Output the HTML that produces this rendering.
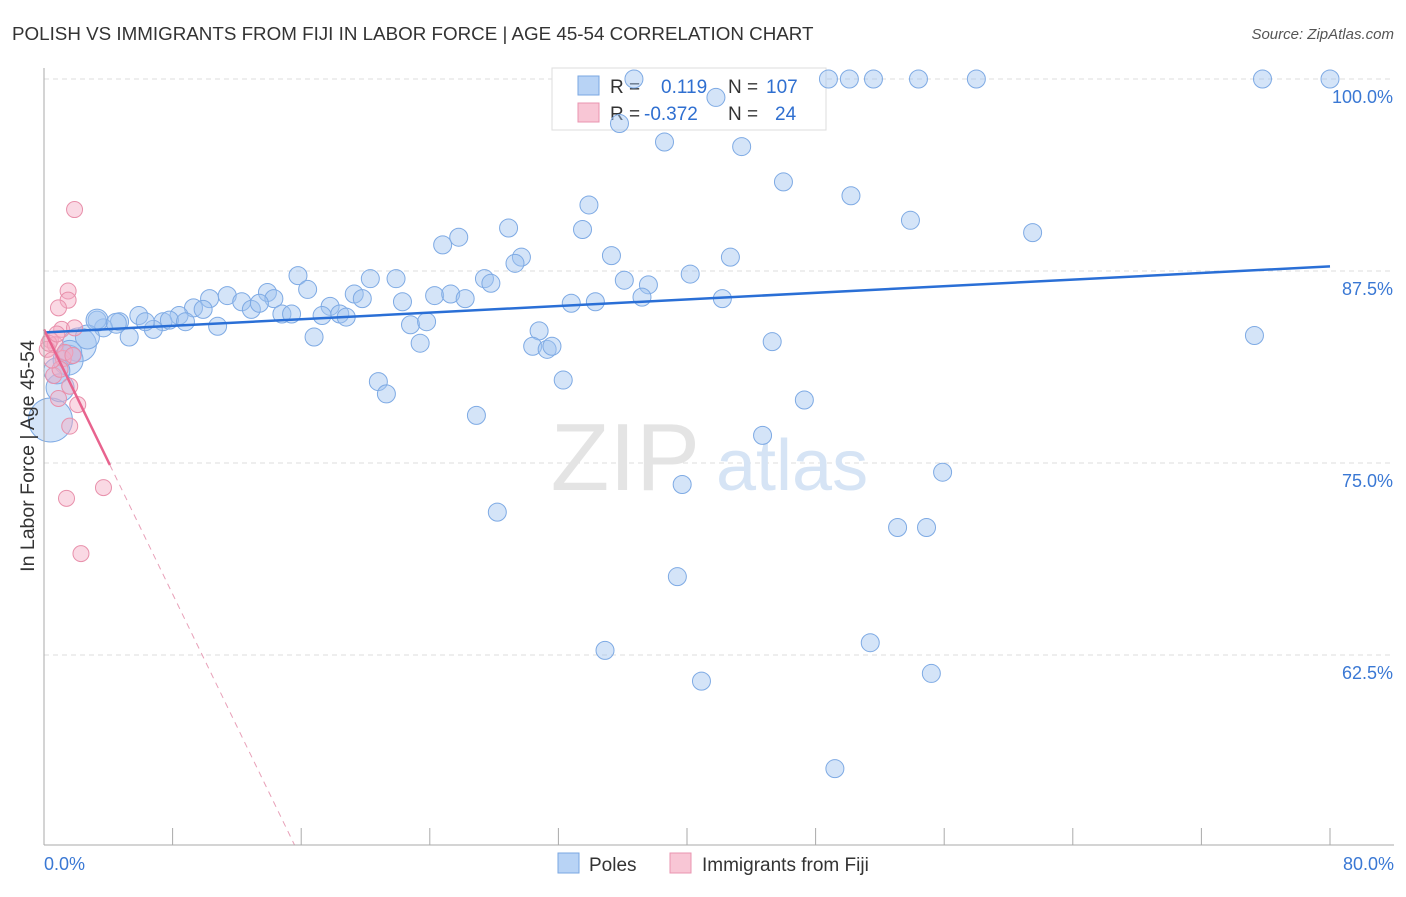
<!DOCTYPE html>
<html><head><meta charset="utf-8"><style>
body{margin:0;background:#fff;font-family:"Liberation Sans",sans-serif}
svg text{font-family:"Liberation Sans",sans-serif}
</style></head><body>
<svg id="c" width="1406" height="892">
<text x="12" y="40" font-size="18.8" fill="#333">POLISH VS IMMIGRANTS FROM FIJI IN LABOR FORCE | AGE 45-54 CORRELATION CHART</text>
<text x="1394" y="39" font-size="15" fill="#555" text-anchor="end" font-style="italic">Source: ZipAtlas.com</text>
<g id="grid"></g>
<text x="700" y="490" font-size="96" fill="#e4e4e4" text-anchor="end" font-family="Liberation Serif">ZIP</text>
<text x="716" y="490" font-size="72" fill="#d6e4f5">atlas</text>
<g>
<rect x="552" y="68" width="274" height="62" fill="#fff" stroke="#ddd"/>
<rect x="578" y="76" width="21" height="19" fill="#b8d3f5" stroke="#7aa7e2"/>
<rect x="578" y="103" width="21" height="19" fill="#f8c6d5" stroke="#ea94b0"/>
<text x="610" y="93" font-size="19" fill="#333">R = <tspan x="661" fill="#2f6fd0">0.119</tspan><tspan x="728" fill="#333">N = </tspan><tspan x="766" fill="#2f6fd0">107</tspan></text>
<text x="610" y="120" font-size="19" fill="#333">R = <tspan x="644" fill="#2f6fd0">-0.372</tspan><tspan x="728" fill="#333">N = </tspan><tspan x="775" fill="#2f6fd0">24</tspan></text>
</g>
<g id="pts"></g>
<g id="axes"></g>
<text x="34" y="456" font-size="19.5" fill="#333" text-anchor="middle" transform="rotate(-90 34 456)">In Labor Force | Age 45-54</text>
<g>
<rect x="558" y="853" width="21" height="20" fill="#b8d3f5" stroke="#7aa7e2"/>
<text x="589" y="871" font-size="19" fill="#333">Poles</text>
<rect x="670" y="853" width="21" height="20" fill="#f8c6d5" stroke="#ea94b0"/>
<text x="702" y="871" font-size="19" fill="#333">Immigrants from Fiji</text>
</g>
</svg>
<script>
const yTicks=[100,87.5,75,62.5];
const yTickLabels=["100.0%","87.5%","75.0%","62.5%"];
const xTicks=[0,8,16,24,32,40,48,56,64,72,80];
const polesX=[36.7,48.8,50.1,51.6,54.4,58.0,75.8,80.0,35.8,41.8,38.6,43.4,46.0,50.2,53.9,61.5,33.9,33.5,28.9,25.8,24.8,29.7,29.3,35.3,42.7,40.2,36.1,37.6,27.4,27.8,21.9,20.3,15.8,16.4,13.9,14.3,10.3,11.4,12.3,12.9,13.4,9.3,9.9,8.4,7.4,7.8,8.8,6.8,5.9,6.3,4.7,3.7,3.3,5.3,10.8,14.8,15.4,17.8,18.4,18.8,17.3,19.3,19.8,22.3,24.3,25.3,26.2,22.8,23.8,23.4,16.8,32.8,34.3,37.2,42.2,30.8,30.4,31.3,31.6,45.3,75.3,20.8,21.3,32.3,47.3,26.9,44.7,55.9,39.7,28.2,53.1,54.9,39.4,51.4,34.9,55.2,40.9,49.2,2.2,1.5,0.4,1.0,2.7,1.6,3.3,4.5,0.8];
const polesY=[100,100,100,100,100,100,100,100,97.1,98.8,95.9,95.6,93.3,92.4,90.8,90.0,91.8,90.2,90.3,89.7,89.2,88.4,88.0,88.5,88.4,87.3,86.9,86.6,87.0,86.7,87.0,87.0,87.2,86.3,86.1,85.7,85.7,85.9,85.5,85.0,85.4,85.1,85.0,84.6,84.2,84.3,84.2,83.7,84.6,84.2,84.2,83.8,84.3,83.2,83.9,84.7,84.7,85.2,84.7,84.5,84.6,86.0,85.7,85.5,85.9,86.0,85.7,84.0,84.2,82.8,83.2,85.4,85.5,85.8,85.7,83.6,82.6,82.4,82.6,82.9,83.3,80.3,79.5,80.4,79.1,78.1,76.8,74.4,73.6,71.8,70.8,70.8,67.6,63.3,62.8,61.3,60.8,55.1,82.7,81.7,77.8,79.9,83.2,82.2,84.3,84.1,81.0];
const polesR=[9,9,9,9,9,9,9,9,9,9,9,9,9,9,9,9,9,9,9,9,9,9,9,9,9,9,9,9,9,9,9,9,9,9,9,9,9,9,9,9,9,9,9,9,9,9,9,9,9,9,9,9,9,9,9,9,9,9,9,9,9,9,9,9,9,9,9,9,9,9,9,9,9,9,9,9,9,9,9,9,9,9,9,9,9,9,9,9,9,9,9,9,9,9,9,9,9,9,17,15,22,14,12,12,11,10,13];
const fijiX=[1.9,1.5,1.5,0.9,1.1,1.9,0.4,0.7,1.2,0.6,1.6,0.9,2.1,1.6,1.4,3.7,2.3,0.2,1.0,0.5,1.3,0.3,0.8,1.8];
const fijiY=[91.5,86.2,85.6,85.1,83.7,83.8,83.0,82.7,81.8,80.7,80.0,79.2,78.8,77.4,72.7,73.4,69.1,82.4,81.1,81.7,82.2,82.8,83.4,82.0];
const blueTrend=[83.5,87.8];
const pinkTrend=[83.7,50.1];
const pinkSolidEnd=4.1, pinkDashEnd=15.6;
const X0=44,X1=1330,Y0=79,YB=845;
const sx=v=>X0+(v/80)*(X1-X0);
const sy=v=>Y0+(100-v)/12.5*192;
const ns="http://www.w3.org/2000/svg";
function mk(t,a,p){const e=document.createElementNS(ns,t);for(const k in a)e.setAttribute(k,a[k]);p.appendChild(e);return e;}
const grid=document.getElementById('grid'),axes=document.getElementById('axes'),pts=document.getElementById('pts');
yTicks.forEach((t,i)=>{
 const l=mk('line',{x1:X0,x2:1394,y1:sy(t),y2:sy(t),stroke:'#ddd','stroke-dasharray':'5,4'},grid);
 
 
 const tx=mk('text',{x:1393,y:sy(t)+24,'font-size':18,fill:'#3a78d4','text-anchor':'end'},axes);
 tx.textContent=yTickLabels[i];
 
 
});
const ax=mk('line',{x1:X0,x2:X0,y1:68,y2:YB,stroke:'#aaa'},axes);


const bx=mk('line',{x1:X0,x2:1394,y1:YB,y2:YB,stroke:'#aaa'},axes);


xTicks.forEach(t=>{
 const l=mk('line',{x1:sx(t),x2:sx(t),y1:828,y2:YB,stroke:'#aaa'},axes);
 
 
});
[[0,'0.0%',44,'start'],[80,'80.0%',1394,'end']].forEach(a=>{
 const tx=mk('text',{x:a[2],y:870,'font-size':18,fill:'#3a78d4','text-anchor':a[3]},axes);
 tx.textContent=a[1];
 
 
});
polesX.forEach((x,i)=>{
 const c=mk('circle',{cx:sx(x),cy:sy(polesY[i]),r:polesR[i],fill:'rgba(160,196,240,0.45)',stroke:'#7eaae4','stroke-width':1},pts);
 
 
});
fijiX.forEach((x,i)=>{
 const c=mk('circle',{cx:sx(x),cy:sy(fijiY[i]),r:8,fill:'rgba(245,170,195,0.45)',stroke:'#e890ab','stroke-width':1},pts);
 
 
});
const bt=mk('line',{x1:sx(0),y1:sy(blueTrend[0]),x2:sx(80),y2:sy(blueTrend[1]),stroke:'#2a6fd6','stroke-width':2.5},pts);


const py=x=>pinkTrend[0]+(pinkTrend[1]-pinkTrend[0])*x/pinkDashEnd;
const pt=mk('line',{x1:sx(0),y1:sy(py(0)),x2:sx(pinkSolidEnd),y2:sy(py(pinkSolidEnd)),stroke:'#e8638e','stroke-width':2.5},pts);


const pd=mk('line',{x1:sx(pinkSolidEnd),y1:sy(py(pinkSolidEnd)),x2:sx(pinkDashEnd),y2:sy(py(pinkDashEnd)),stroke:'#e8a0b8','stroke-width':1,'stroke-dasharray':'6,5'},pts);


</script>
</body></html>
